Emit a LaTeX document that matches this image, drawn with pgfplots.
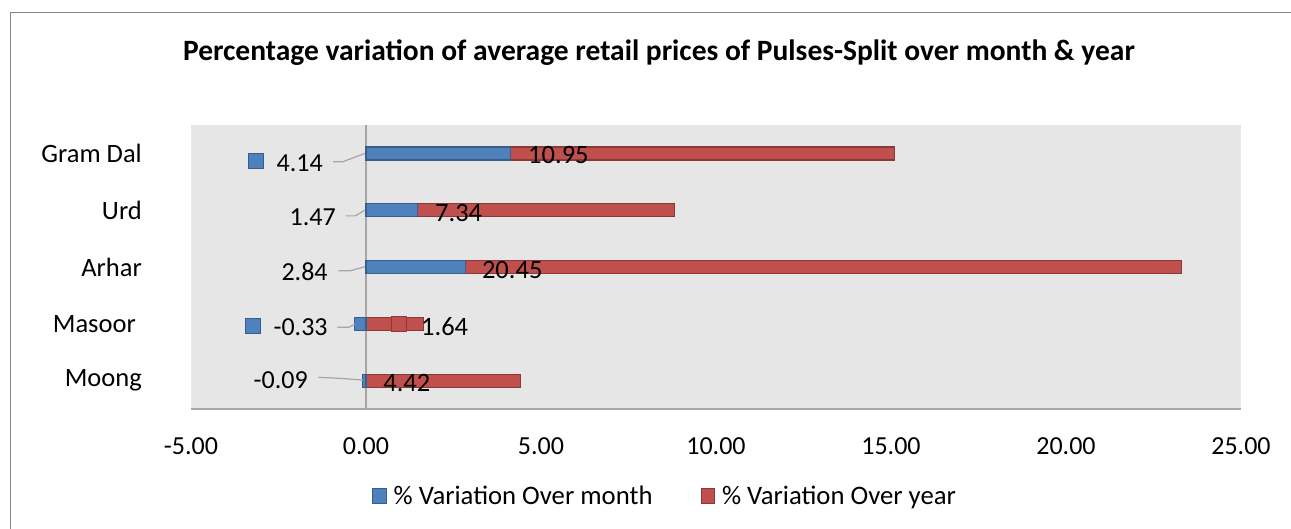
\documentclass[border=0pt]{standalone}
\usepackage{pgfplots}
\pgfplotsset{compat=1.18}
\usepackage{fontspec}
\setmainfont{Carlito}
\definecolor{blueF}{RGB}{79,129,189}
\definecolor{blueD}{RGB}{56,93,138}
\definecolor{redF}{RGB}{192,80,77}
\definecolor{redD}{RGB}{140,56,54}
\definecolor{bgG}{RGB}{230,230,230}
\definecolor{frameG}{RGB}{134,134,134}
\definecolor{leadG}{RGB}{166,166,166}
\begin{document}
\begin{tikzpicture}
\useasboundingbox (0,0) rectangle (1291pt,-529pt);
\draw[frameG, line width=1pt] (10pt,-540pt) -- (10pt,-13pt) -- (1300pt,-13pt);
\node[font=\bfseries\fontsize{29.5}{34}\selectfont, anchor=base] at (659pt,-61pt)
  {Percentage variation of average retail prices of Pulses-Split over month \& year};
% axis A: stacked year bars
\begin{axis}[
  at={(191pt,-409pt)}, anchor=south west,
  scale only axis, width=1050pt, height=284pt,
  xbar stacked, bar width=13pt,
  xmin=-5, xmax=25, ymin=-0.5, ymax=4.5,
  xtick={-5,0,5,10,15,20,25},
  ytick={0,1,2,3,4},
  yticklabels={Moong,Masoor\kern6pt,Arhar,Urd,Gram Dal},
  axis background/.style={fill=bgG},
  axis x line*=bottom, axis y line*=left,
  x axis line style={draw=leadG, line width=2pt},
  y axis line style={draw=none},
  major tick length=0pt,
  /pgf/number format/assume math mode=true,
  /pgf/number format/.cd, fixed, fixed zerofill, precision=2, /pgfplots/.cd,
  xticklabel style={font=\fontsize{26}{30}\selectfont, inner sep=0pt, yshift=-28pt},
  yticklabel style={font=\fontsize{26.5}{30}\selectfont, inner sep=0pt, xshift=-49pt},
]
\addplot[draw=none, fill=none, forget plot] coordinates {(0,0) (0,1) (2.84,2) (1.47,3) (4.14,4)};
\addplot[fill=redF, draw=redD, line width=1.2pt] coordinates {(4.42,0) (1.64,1) (20.45,2) (7.34,3) (10.95,4)};
\end{axis}
% axis B: month bars, labels, leaders
\begin{axis}[
  at={(191pt,-409pt)}, anchor=south west,
  scale only axis, width=1050pt, height=284pt,
  xmin=-5, xmax=25, ymin=-0.5, ymax=4.5,
  axis lines=none, clip=false,
  legend image code/.code={\draw[#1] (0pt,-7.5pt) rectangle (13.5pt,7.5pt);},
  legend style={draw=none, fill=none, inner sep=0pt,
    at={(0.1724,-0.3063)}, anchor=west, legend columns=2,
    font=\fontsize{26.7}{30}\selectfont,
    nodes={inner sep=0pt},
    /tikz/every odd column/.append style={column sep=7pt},
    /tikz/every even column/.append style={column sep=48pt}},
  legend cell align=left,
]
\addplot[leadG, line width=1.5pt, forget plot] coordinates {(0,-0.5) (0,4.5)};
\addplot[xbar, bar width=13pt, fill=blueF, draw=blueD, line width=1.2pt, forget plot]
  coordinates {(-0.09,0) (-0.33,1) (2.84,2) (1.47,3) (4.14,4)};
% leader lines
\addplot[leadG, line width=1.2pt, forget plot] coordinates {(-0.94,3.854) (-0.66,3.854) (-0.03,4.0)};
\addplot[leadG, line width=1.2pt, forget plot] coordinates {(-0.58,2.90) (-0.31,2.90) (-0.03,3.0)};
\addplot[leadG, line width=1.2pt, forget plot] coordinates {(-0.79,1.935) (-0.44,1.935) (-0.03,2.005)};
\addplot[leadG, line width=1.2pt, forget plot] coordinates {(-0.82,0.938) (-0.50,0.938) (-0.31,0.996)};
\addplot[leadG, line width=1.2pt, forget plot] coordinates {(-1.36,0.058) (-0.74,0.04) (-0.08,0.01)};
% stray squares
\addplot[only marks, mark=square*, mark size=7.5pt, mark options={fill=blueF, draw=blueD, line width=1pt}, forget plot]
  coordinates {(-3.14,3.866) (-3.23,0.961)};
\addplot[only marks, mark=square*, mark size=7.5pt, mark options={fill=redF, draw=redD, line width=1pt}, forget plot]
  coordinates {(0.957,0.996)};
% month labels
\addplot[draw=none, mark=none, forget plot, nodes near coords, point meta=explicit symbolic,
  nodes near coords align={anchor=east},
  every node near coord/.append style={inner sep=0pt, font=\fontsize{26}{30}\selectfont, text=black}]
  coordinates {(-1.23,3.83) [4.14] (-0.86,2.88) [1.47] (-1.09,1.91) [2.84] (-1.09,0.94) [-0.33] (-1.66,0.01) [-0.09]};
% year labels
\addplot[draw=none, mark=none, forget plot, nodes near coords, point meta=explicit symbolic,
  nodes near coords align={anchor=west},
  every node near coord/.append style={inner sep=0pt, font=\fontsize{26.5}{30}\selectfont, text=black}]
  coordinates {(4.63,3.97) [10.95] (1.97,2.95) [7.34] (3.31,1.947) [20.45] (1.57,0.944) [1.64] (0.49,-0.04) [4.42]};
\addlegendimage{fill=blueF, draw=blueD, line width=1pt}
\addlegendentry{\% Variation Over month}
\addlegendimage{fill=redF, draw=redD, line width=1pt}
\addlegendentry{\% Variation Over year}
\end{axis}
\end{tikzpicture}
\end{document}
